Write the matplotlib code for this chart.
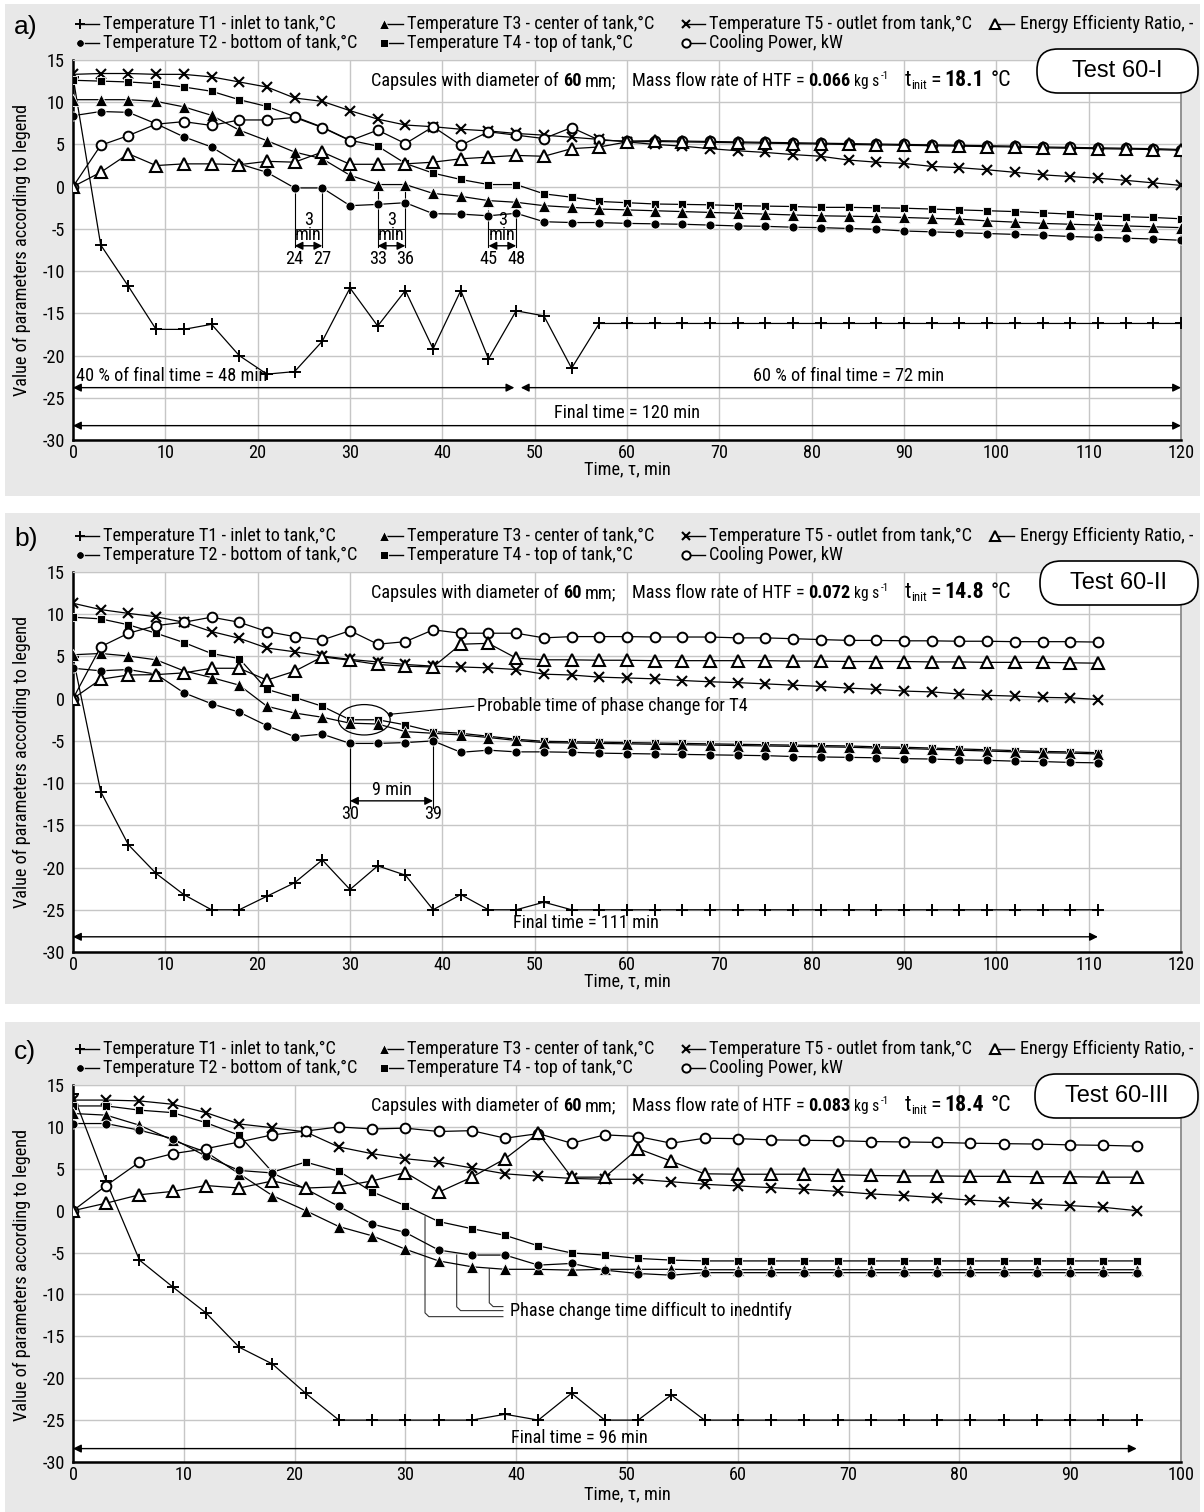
import matplotlib
matplotlib.use('Agg')
import matplotlib.pyplot as plt
from matplotlib import font_manager as fm
from matplotlib.patches import FancyBboxPatch, Ellipse, Rectangle

# ---------------- data ----------------
time_a = [0, 3, 6, 9, 12, 15, 18, 21, 24, 27, 30, 33, 36, 39, 42, 45, 48, 51, 54, 57, 60,
          63, 66, 69, 72, 75, 78, 81, 84, 87, 90, 93, 96, 99, 102, 105, 108, 111, 114, 117, 120]
T1_a = [13.0, -6.9, -11.8, -16.9, -16.9, -16.3, -20.0, -22.2, -21.9, -18.3, -12.0, -16.5, -12.3, -19.2,
        -12.3, -20.4, -14.7, -15.3, -21.5, -16.2, -16.2, -16.2, -16.2, -16.2, -16.2, -16.2, -16.2, -16.2,
        -16.2, -16.2, -16.2, -16.2, -16.2, -16.2, -16.2, -16.2, -16.2, -16.2, -16.2, -16.2, -16.2]
T2_a = [8.4, 8.9, 8.8, 7.45, 5.9, 4.7, 2.7, 1.7, -0.15, -0.15, -2.25, -2.1, -1.9, -3.2, -3.25, -3.45,
        -3.15, -4.15, -4.25, -4.25, -4.35, -4.4, -4.45, -4.55, -4.65, -4.7, -4.8, -4.85, -4.95, -5.05,
        -5.25, -5.35, -5.45, -5.55, -5.65, -5.75, -5.9, -6.0, -6.1, -6.2, -6.35]
T3_a = [10.3, 10.3, 10.3, 10.1, 9.45, 8.45, 6.7, 5.45, 4.1, 3.3, 1.35, 0.25, 0.25, -0.8, -1.15, -1.65,
        -1.85, -2.25, -2.45, -2.65, -2.75, -2.85, -2.95, -3.05, -3.15, -3.25, -3.35, -3.45, -3.5, -3.55,
        -3.65, -3.75, -3.85, -4.05, -4.2, -4.35, -4.45, -4.55, -4.65, -4.75, -4.85]
T4_a = [12.6, 12.5, 12.4, 12.2, 11.8, 11.3, 10.3, 9.5, 8.3, 7.05, 5.5, 4.8, 2.75, 1.6, 0.85, 0.25, 0.25,
        -0.85, -1.25, -1.75, -1.9, -2.05, -2.1, -2.15, -2.25, -2.3, -2.35, -2.45, -2.45, -2.5, -2.55,
        -2.65, -2.75, -2.85, -2.95, -3.1, -3.25, -3.45, -3.55, -3.65, -3.8]
T5_a = [13.3, 13.4, 13.4, 13.3, 13.3, 13.0, 12.4, 11.8, 10.5, 10.1, 9.0, 8.0, 7.3, 7.1, 6.8, 6.6, 6.3,
        6.1, 5.85, 5.6, 5.3, 5.0, 4.8, 4.5, 4.25, 4.05, 3.8, 3.6, 3.15, 2.9, 2.75, 2.4, 2.25, 2.0, 1.7,
        1.4, 1.2, 1.0, 0.75, 0.45, 0.15]
CP_a = [0.0, 4.9, 6.05, 7.4, 7.7, 7.25, 7.9, 7.9, 8.2, 7.0, 5.45, 6.7, 5.1, 7.1, 4.9, 6.5, 6.1, 5.7,
        7.0, 5.5, 5.4, 5.45, 5.4, 5.35, 5.3, 5.25, 5.2, 5.15, 5.1, 5.05, 5.0, 4.95, 4.9, 4.85, 4.8, 4.7,
        4.65, 4.6, 4.55, 4.5, 4.4]
EER_a = [0.0, 1.7, 3.9, 2.5, 2.7, 2.7, 2.6, 3.0, 2.9, 4.1, 2.65, 2.65, 2.7, 2.9, 3.3, 3.5, 3.7, 3.6,
         4.5, 4.7, 5.3, 5.35, 5.3, 5.25, 5.2, 5.15, 5.1, 5.05, 5.0, 4.95, 4.9, 4.85, 4.8, 4.75, 4.7,
         4.6, 4.55, 4.5, 4.45, 4.4, 4.3]

time_b = [0, 3, 6, 9, 12, 15, 18, 21, 24, 27, 30, 33, 36, 39, 42, 45, 48, 51, 54, 57, 60,
          63, 66, 69, 72, 75, 78, 81, 84, 87, 90, 93, 96, 99, 102, 105, 108, 111]
T1_b = [4.9, -11.0, -17.3, -20.7, -23.2, -25.0, -25.0, -23.4, -21.8, -19.1, -22.6, -19.8, -20.9, -25.0,
        -23.2, -25.0, -25.0, -24.1, -25.0, -25.0, -25.0, -25.0, -25.0, -25.0, -25.0, -25.0, -25.0, -25.0,
        -25.0, -25.0, -25.0, -25.0, -25.0, -25.0, -25.0, -25.0, -25.0, -25.0]
T2_b = [3.6, 3.3, 3.45, 2.9, 0.7, -0.6, -1.6, -3.2, -4.5, -4.2, -5.3, -5.3, -5.2, -5.0, -6.35, -6.1,
        -6.3, -6.3, -6.35, -6.45, -6.5, -6.55, -6.6, -6.65, -6.7, -6.75, -6.85, -6.9, -6.95, -7.0, -7.1,
        -7.15, -7.25, -7.3, -7.4, -7.45, -7.55, -7.6]
T3_b = [5.2, 5.35, 5.05, 4.6, 3.3, 2.5, 1.6, -0.9, -1.7, -2.2, -2.9, -3.0, -3.9, -4.1, -4.3, -4.6,
        -4.95, -5.2, -5.25, -5.3, -5.35, -5.4, -5.45, -5.5, -5.55, -5.6, -5.65, -5.7, -5.75, -5.85,
        -5.9, -6.0, -6.1, -6.2, -6.3, -6.4, -6.45, -6.55]
T4_b = [9.65, 9.45, 8.75, 7.75, 6.65, 5.35, 4.75, 1.1, 0.15, -0.9, -2.5, -2.5, -3.1, -3.9, -4.1, -4.45,
        -4.8, -5.05, -5.1, -5.15, -5.2, -5.25, -5.3, -5.35, -5.4, -5.45, -5.5, -5.55, -5.6, -5.7, -5.75,
        -5.85, -5.95, -6.05, -6.15, -6.25, -6.3, -6.4]
T5_b = [11.3, 10.55, 10.1, 9.7, 9.05, 7.95, 7.15, 6.0, 5.55, 5.05, 4.65, 4.35, 4.05, 3.85, 3.75, 3.65,
        3.45, 2.9, 2.8, 2.55, 2.45, 2.35, 2.15, 2.0, 1.9, 1.75, 1.6, 1.45, 1.25, 1.1, 0.9, 0.8, 0.55,
        0.4, 0.3, 0.15, 0.1, -0.1]
CP_b = [0.0, 6.15, 7.75, 8.65, 9.05, 9.65, 9.05, 7.95, 7.35, 6.95, 8.05, 6.45, 6.75, 8.15, 7.75, 7.75,
        7.75, 7.2, 7.35, 7.35, 7.35, 7.3, 7.3, 7.3, 7.2, 7.2, 7.1, 7.0, 6.9, 6.9, 6.85, 6.85, 6.8, 6.8,
        6.75, 6.75, 6.75, 6.7]
EER_b = [0.0, 2.3, 2.8, 2.85, 3.05, 3.6, 3.6, 2.2, 3.25, 4.95, 4.55, 4.05, 3.85, 3.75, 6.45, 6.55, 4.8,
         4.6, 4.6, 4.55, 4.55, 4.5, 4.5, 4.5, 4.5, 4.5, 4.45, 4.45, 4.4, 4.4, 4.4, 4.35, 4.35, 4.3, 4.3,
         4.3, 4.25, 4.2]

time_c = [0, 3, 6, 9, 12, 15, 18, 21, 24, 27, 30, 33, 36, 39, 42, 45, 48, 51, 54, 57, 60,
          63, 66, 69, 72, 75, 78, 81, 84, 87, 90, 93, 96]
T1_c = [13.9, 3.5, -5.9, -9.1, -12.2, -16.3, -18.3, -21.8, -25.0, -25.0, -25.0, -25.0, -25.0, -24.3,
        -25.0, -21.8, -25.0, -25.0, -22.0, -25.0, -25.0, -25.0, -25.0, -25.0, -25.0, -25.0, -25.0, -25.0,
        -25.0, -25.0, -25.0, -25.0, -25.0]
T2_c = [10.4, 10.4, 9.6, 8.6, 6.5, 4.8, 4.5, 2.6, 0.5, -1.6, -2.6, -4.7, -5.3, -5.3, -6.5, -6.3, -7.1,
        -7.5, -7.7, -7.4, -7.4, -7.4, -7.4, -7.4, -7.4, -7.4, -7.4, -7.4, -7.4, -7.4, -7.4, -7.4, -7.4]
T3_c = [11.6, 11.4, 10.2, 8.4, 7.0, 4.4, 1.8, 0.0, -1.9, -3.0, -4.6, -6.0, -6.7, -7.0, -7.0, -7.1,
        -7.0, -7.0, -7.0, -7.05, -7.05, -7.05, -7.05, -7.05, -7.05, -7.05, -7.05, -7.05, -7.05, -7.05,
        -7.05, -7.05, -7.05]
T4_c = [12.5, 12.5, 12.0, 11.7, 10.5, 9.0, 4.6, 5.8, 4.7, 2.25, 0.6, -1.3, -2.15, -2.95, -4.2, -5.05,
        -5.3, -5.7, -5.9, -6.0, -6.0, -6.0, -6.0, -6.0, -6.0, -6.0, -6.0, -6.0, -6.0, -6.0, -6.0, -6.0, -6.0]
T5_c = [13.2, 13.2, 13.1, 12.7, 11.7, 10.35, 9.9, 9.4, 7.6, 6.8, 6.2, 5.8, 5.1, 4.4, 4.1, 3.85, 3.75,
        3.75, 3.45, 3.15, 2.95, 2.75, 2.55, 2.3, 2.0, 1.8, 1.55, 1.25, 1.05, 0.8, 0.6, 0.4, 0.0]
CP_c = [0.0, 3.0, 5.8, 6.8, 7.4, 8.2, 9.05, 9.5, 10.0, 9.75, 9.85, 9.45, 9.55, 8.65, 9.2, 8.05, 9.05,
        8.85, 8.05, 8.65, 8.6, 8.45, 8.4, 8.35, 8.25, 8.2, 8.15, 8.05, 8.0, 7.95, 7.85, 7.8, 7.7]
EER_c = [0.0, 0.9, 1.9, 2.3, 3.0, 2.7, 3.55, 2.7, 2.85, 3.55, 4.55, 2.2, 4.0, 6.2, 9.25, 4.0, 4.0, 7.4,
         5.9, 4.4, 4.35, 4.35, 4.35, 4.3, 4.2, 4.15, 4.15, 4.1, 4.1, 4.05, 4.05, 4.0, 4.0]

legend_labels = ['Temperature T1 - inlet to tank,°C', 'Temperature T2 - bottom of tank,°C',
                 'Temperature T3 - center of tank,°C', 'Temperature T4 - top of tank,°C',
                 'Temperature T5 - outlet from tank,°C', 'Cooling Power, kW',
                 'Energy Efficienty Ratio, -']
y_ticks = [15, 10, 5, 0, -5, -10, -15, -20, -25, -30]

# ---------------- fonts: prefer a narrow sans, else scale regular ----------------
names = {f.name for f in fm.fontManager.ttflist}
FAM = 'Liberation Sans'
for cand in ['Liberation Sans Narrow', 'Arial Narrow', 'Roboto Condensed', 'Open Sans Condensed',
             'Noto Sans Condensed']:
    if cand in names:
        FAM = cand
        break
FONT = [FAM, 'DejaVu Sans']
plt.rcParams['font.family'] = FONT
plt.rcParams['axes.unicode_minus'] = False

W, H = 1204, 1512
fig = plt.figure(figsize=(W / 100, H / 100), dpi=100)
fig.patch.set_facecolor('white')
renderer = fig.canvas.get_renderer()


def text_width(s, **kw):
    t = fig.text(0, 0, s, **kw)
    w = t.get_window_extent(renderer).width
    t.remove()
    return w


FS = min(14.0, 10.0 * 232.0 / text_width(legend_labels[0], fontsize=10))

# ---------------- styles ----------------
LW = 0.9
STY = {
    'T1': dict(marker='+', ms=9, mew=1.4, mfc='k', mec='k'),
    'T2': dict(marker='o', ms=6.5, mew=0.6, mfc='k', mec='white'),
    'T3': dict(marker='^', ms=8, mew=0.6, mfc='k', mec='white'),
    'T4': dict(marker='s', ms=6, mew=0.6, mfc='k', mec='white'),
    'T5': dict(marker='x', ms=6.5, mew=1.5, mfc='k', mec='k'),
    'CP': dict(marker='o', ms=7, mew=1.4, mfc='white', mec='k'),
    'EER': dict(marker='^', ms=8.5, mew=1.5, mfc='white', mec='k'),
}
DRAW_ORDER = ['T1', 'T5', 'T4', 'T3', 'T2', 'CP', 'EER']
leg_order = [('T1', 0, 0), ('T2', 0, 1), ('T3', 1, 0), ('T4', 1, 1), ('T5', 2, 0), ('CP', 2, 1), ('EER', 3, 0)]
col_marker_x = [80, 384, 686, 995]
col_text_x = [103, 407, 709, 1020]

bg = fig.add_axes([0, 0, 1, 1], zorder=-10)
bg.set_xlim(0, W); bg.set_ylim(H, 0); bg.axis('off')
for (y0, y1) in [(4, 496), (513, 1004), (1022, 1512)]:
    bg.add_patch(Rectangle((5, y0), 1195, y1 - y0, facecolor='#e8e8e8', edgecolor='none'))

ov = fig.add_axes([0, 0, 1, 1], zorder=10)
ov.set_xlim(0, W); ov.set_ylim(H, 0); ov.axis('off')
ov.patch.set_alpha(0)


def make_axes(top_px, bot_px, xmax, xticks):
    ax = fig.add_axes([73 / W, 1 - bot_px / H, (1181 - 73) / W, (bot_px - top_px) / H])
    ax.set_xlim(0, xmax)
    ax.set_ylim(-30, 15)
    ax.set_xticks(xticks)
    ax.set_yticks(y_ticks)
    ax.grid(True, color='#c6c6c6', lw=1.0)
    ax.set_axisbelow(True)
    ax.tick_params(length=0, labelsize=FS)
    ax.tick_params(axis='y', pad=6)
    ax.tick_params(axis='x', pad=3)
    for s in ['left', 'bottom']:
        ax.spines[s].set_linewidth(1.8)
        ax.spines[s].set_color('black')
    ax.spines['top'].set_color('#c6c6c6')
    ax.spines['right'].set_color('#8a8a8a')
    ax.spines['right'].set_linewidth(1.3)
    return ax


def plot_series(ax, t, series):
    for i, key in enumerate(DRAW_ORDER):
        ax.plot(t, series[key], color='k', lw=LW, zorder=3 + 0.01 * i, **STY[key])


def dbl_arrow(ax, x0, x1, y):
    ax.annotate('', xy=(x1, y), xytext=(x0, y),
                arrowprops=dict(arrowstyle='<|-|>', color='k', lw=1.0, mutation_scale=12,
                                shrinkA=0, shrinkB=0), zorder=5)


def legend_block(top_px):
    rows = [top_px - 36, top_px - 17]
    labels = dict(zip(['T1', 'T2', 'T3', 'T4', 'T5', 'CP', 'EER'], legend_labels))
    for key, c, r in leg_order:
        x, y = col_marker_x[c], rows[r]
        ov.plot([x, x + 19], [y, y], color='k', lw=1.0)
        st = dict(STY[key])
        st['ms'] = st['ms'] * 0.85
        ov.plot([x], [y], color='k', **st)
        ov.text(col_text_x[c], y, labels[key], ha='left', va='center', fontsize=FS)


def rich_line(x, y_base, pieces):
    # pieces: (text, size factor, bold, dy px (up), gap after px)
    for s, f, bold, dy, gap in pieces:
        kw = dict(fontsize=FS * f, fontweight='bold' if bold else 'normal')
        ov.text(x, y_base - dy, s, ha='left', va='baseline', **kw)
        x += text_width(s, **kw) + gap


def header(top_px, letter, mass, tinit, test_label, box_x0):
    ov.text(14, top_px - 33, letter, fontsize=19, ha='left', va='center',
            family=['Liberation Sans', 'DejaVu Sans'])
    yb = top_px + 26
    rich_line(371, yb, [
        ('Capsules with diameter of', 1.0, False, 0, 4),
        ('60', 1.0, True, 0, 4),
        ('mm;', 1.0, False, 0, 15),
        ('Mass flow rate of HTF =', 1.0, False, 0, 4),
        (mass, 1.0, True, 0, 4),
        ('kg s', 0.85, False, 0, 1),
        ('-1', 0.6, False, 7, 16),
        ('t', 1.2, False, 0, 0),
        ('init', 0.7, False, -3, 3),
        ('=', 1.2, False, 0, 4),
        (tinit, 1.2, True, 0, 6),
        ('°C', 1.2, False, 0, 0),
    ])
    ov.add_patch(FancyBboxPatch((box_x0, top_px - 11), 1198 - box_x0, 44,
                                boxstyle='round,pad=0,rounding_size=21', facecolor='white',
                                edgecolor='black', lw=1.2))
    ov.text((box_x0 + 1198) / 2, top_px + 11, test_label, ha='center', va='center', fontsize=17,
            family=['Liberation Sans', 'DejaVu Sans'])
    ov.text(22, (top_px + top_px + 380) / 2, 'Value of parameters according to legend', rotation=90,
            ha='center', va='center', fontsize=FS)
    ov.text(627, top_px + 409, 'Time, τ, min', ha='center', va='center', fontsize=FS)


# ---------------- panel a ----------------
axa = make_axes(60, 440, 120, list(range(0, 121, 10)))
plot_series(axa, time_a, dict(T1=T1_a, T2=T2_a, T3=T3_a, T4=T4_a, T5=T5_a, CP=CP_a, EER=EER_a))
legend_block(60)
header(60, 'a)', '0.066', '18.1', 'Test 60-I', 1037)
for (ta, tb, ya, yb, dotted) in [(24, 27, -0.15, -0.15, None), (33, 36, 0.25, 0.25, None),
                                 (45, 48, -1.65, -1.85, (-3.45, -3.15))]:
    for tt, ytop, dd in [(ta, ya, dotted[0] if dotted else None), (tb, yb, dotted[1] if dotted else None)]:
        if dd is not None:
            axa.plot([tt, tt], [ytop, dd], color='k', lw=0.8, ls=(0, (2, 2)), zorder=2.5)
            axa.plot([tt, tt], [dd, -7.2], color='k', lw=0.8, zorder=2.5)
        else:
            axa.plot([tt, tt], [ytop, -7.2], color='k', lw=0.8, zorder=2.5)
    axa.plot([ta, tb], [-5.05, -5.05], color='k', lw=0.6, zorder=4)
    dbl_arrow(axa, ta, tb, -7.0)
    axa.text((ta + tb) / 2, -3.95, '3', ha='center', va='center', fontsize=FS)
    axa.text((ta + tb) / 2, -5.75, 'min', ha='center', va='center', fontsize=FS)
    axa.text(ta, -8.55, str(ta), ha='center', va='center', fontsize=FS)
    axa.text(tb, -8.55, str(tb), ha='center', va='center', fontsize=FS)
dbl_arrow(axa, 0, 47.8, -23.8)
dbl_arrow(axa, 48.5, 120, -23.8)
axa.text(0.3, -22.4, '40 % of final time = 48 min', ha='left', va='center', fontsize=FS)
axa.text(84, -22.4, '60 % of final time = 72 min', ha='center', va='center', fontsize=FS)
dbl_arrow(axa, 0, 120, -28.3)
axa.text(60, -26.8, 'Final time = 120 min', ha='center', va='center', fontsize=FS)

# ---------------- panel b ----------------
axb = make_axes(572, 952, 120, list(range(0, 121, 10)))
plot_series(axb, time_b, dict(T1=T1_b, T2=T2_b, T3=T3_b, T4=T4_b, T5=T5_b, CP=CP_b, EER=EER_b))
legend_block(572)
header(572, 'b)', '0.072', '14.8', 'Test 60-II', 1040)
axb.add_patch(Ellipse((31.55, -2.5), 5.6, 3.6, fill=False, edgecolor='k', lw=0.9, zorder=5))
axb.plot([34.3, 43.4], [-1.85, -0.9], color='k', lw=0.8, zorder=5)
axb.plot([34.3], [-1.85], 'ko', ms=2.5, zorder=5)
axb.text(43.8, -0.9, 'Probable time of phase change for T4', ha='left', va='center', fontsize=FS)
axb.plot([30, 30], [-5.3, -13.0], color='k', lw=0.8, zorder=2.5)
axb.plot([39, 39], [-5.0, -13.0], color='k', lw=0.8, zorder=2.5)
dbl_arrow(axb, 30, 39, -12.1)
axb.text(34.5, -10.85, '9 min', ha='center', va='center', fontsize=FS)
axb.text(30, -13.6, '30', ha='center', va='center', fontsize=FS)
axb.text(39, -13.6, '39', ha='center', va='center', fontsize=FS)
dbl_arrow(axb, 0, 111, -28.2)
axb.text(55.5, -26.6, 'Final time = 111 min', ha='center', va='center', fontsize=FS)

# ---------------- panel c ----------------
axc = make_axes(1085, 1462, 100, list(range(0, 101, 10)))
plot_series(axc, time_c, dict(T1=T1_c, T2=T2_c, T3=T3_c, T4=T4_c, T5=T5_c, CP=CP_c, EER=EER_c))
legend_block(1085)
header(1085, 'c)', '0.083', '18.4', 'Test 60-III', 1035)
for (tx, ytop, yh) in [(31.77, -0.72, -12.65), (34.63, -5.29, -11.93), (37.57, -6.96, -11.45)]:
    axc.plot([tx, tx, tx + 0.35, 38.8], [ytop, yh + 0.45, yh, yh], color='#333333', lw=0.8, zorder=2.5)
axc.text(39.4, -11.97, 'Phase change time difficult to inedntify', ha='left', va='center', fontsize=FS)
dbl_arrow(axc, 0, 96, -28.4)
axc.text(45.7, -27.1, 'Final time = 96 min', ha='center', va='center', fontsize=FS)

fig.savefig('out.png', dpi=100, facecolor='white')
